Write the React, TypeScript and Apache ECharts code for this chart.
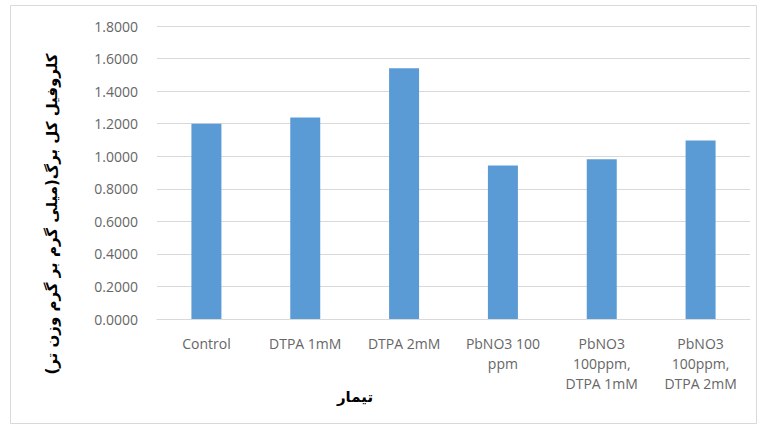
import React, { useEffect, useRef } from "react";
import * as echarts from "echarts";

const categories = [
  "Control",
  "DTPA 1mM",
  "DTPA 2mM",
  "PbNO3 100\nppm",
  "PbNO3\n100ppm,\nDTPA 1mM",
  "PbNO3\n100ppm,\nDTPA 2mM",
];
const values = [1.2, 1.238, 1.54, 0.943, 0.982, 1.097];
const yAxisTitle = "کلروفیل کل برگ(میلی گرم بر گرم وزن تر)";
const xAxisTitle = "تیمار";

export default function App() {
  const ref = useRef<HTMLDivElement>(null);
  useEffect(() => {
    document.body.style.margin = "0";
    const chart = echarts.init(ref.current!, null, { renderer: "svg" });
    chart.setOption({
      animation: false,
      backgroundColor: "#ffffff",
      grid: { left: 157, right: 10, top: 26, bottom: 107 },
      xAxis: {
        type: "category",
        data: categories,
        axisLine: { lineStyle: { color: "#d9d9d9", width: 1 } },
        axisTick: { show: false },
        axisLabel: {
          interval: 0,
          color: "#666666",
          fontFamily: "Open Sans",
          fontSize: 14,
          lineHeight: 20,
          margin: 14,
        },
      },
      yAxis: {
        type: "value",
        min: 0,
        max: 1.8,
        interval: 0.2,
        axisLine: { show: false },
        axisTick: { show: false },
        splitLine: { lineStyle: { color: "#d9d9d9", width: 1 } },
        axisLabel: {
          color: "#666666",
          fontFamily: "Open Sans",
          fontSize: 14,
          margin: 19,
          formatter: (v: number) => v.toFixed(4),
        },
      },
      series: [
        {
          type: "bar",
          data: values,
          barWidth: 30,
          itemStyle: { color: "#5b9bd5" },
        },
      ],
      graphic: [
        {
          type: "rect",
          shape: { x: 10.5, y: 5.5, width: 746, height: 418 },
          style: { fill: "none", stroke: "#d9d9d9", lineWidth: 1 },
          silent: true,
        },
        {
          type: "text",
          x: 52,
          y: 214,
          rotation: Math.PI / 2,
          style: {
            text: yAxisTitle,
            fontFamily: "DejaVu Sans",
            fontSize: 15,
            fontWeight: "bold",
            fill: "#000000",
            align: "center",
            verticalAlign: "middle",
          },
        },
        {
          type: "text",
          x: 355,
          y: 397,
          style: {
            text: xAxisTitle,
            fontFamily: "DejaVu Sans",
            fontSize: 15,
            fontWeight: "bold",
            fill: "#000000",
            align: "center",
            verticalAlign: "middle",
          },
        },
      ],
    });
    return () => chart.dispose();
  }, []);
  return <div ref={ref} style={{ width: 760, height: 426 }} />;
}
